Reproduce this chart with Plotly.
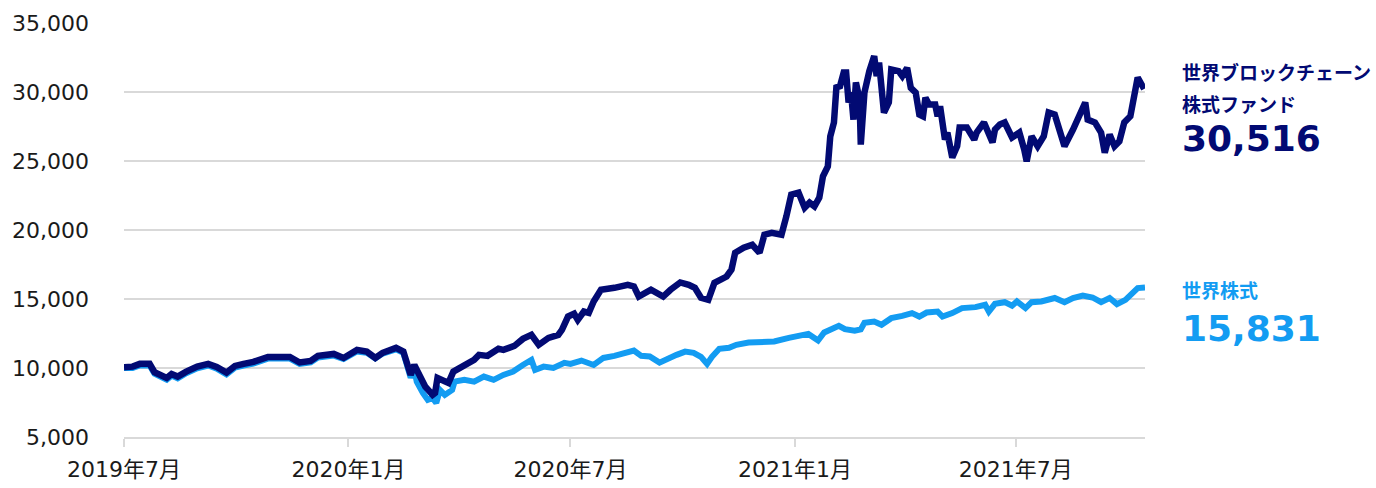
import plotly.graph_objects as go

# ---- data -------------------------------------------------------------
fund_dates = [
    "2019-07-01", "2019-07-08", "2019-07-14", "2019-07-22", "2019-07-26",
    "2019-08-05", "2019-08-09", "2019-08-14", "2019-08-21", "2019-08-30",
    "2019-09-08", "2019-09-15", "2019-09-23", "2019-09-30",
    "2019-10-07", "2019-10-15", "2019-10-27",
    "2019-11-14", "2019-11-22",
    "2019-12-01", "2019-12-07", "2019-12-20", "2019-12-28",
    "2020-01-08", "2020-01-16", "2020-01-23", "2020-01-29",
    "2020-02-09", "2020-02-15", "2020-02-21", "2020-02-24",
    "2020-03-04", "2020-03-10", "2020-03-12", "2020-03-14", "2020-03-23", "2020-03-27",
    "2020-04-05", "2020-04-13", "2020-04-17", "2020-04-24",
    "2020-05-03", "2020-05-07", "2020-05-16", "2020-05-23", "2020-05-30",
    "2020-06-05", "2020-06-13", "2020-06-21", "2020-06-24", "2020-06-29",
    "2020-07-04", "2020-07-07", "2020-07-12", "2020-07-16", "2020-07-20", "2020-07-26",
    "2020-08-06", "2020-08-10", "2020-08-17", "2020-08-22", "2020-08-26",
    "2020-09-05", "2020-09-15", "2020-09-21", "2020-09-29",
    "2020-10-06", "2020-10-11", "2020-10-16", "2020-10-22", "2020-10-27",
    "2020-11-02", "2020-11-06", "2020-11-10", "2020-11-13", "2020-11-20", "2020-11-27",
    "2020-12-03", "2020-12-07", "2020-12-13", "2020-12-21", "2020-12-25", "2020-12-29",
    "2021-01-04", "2021-01-09", "2021-01-13", "2021-01-17", "2021-01-21", "2021-01-24",
    "2021-01-28", "2021-01-30",
    "2021-02-02", "2021-02-04", "2021-02-07", "2021-02-10", "2021-02-12", "2021-02-14",
    "2021-02-16", "2021-02-18", "2021-02-20", "2021-02-23", "2021-02-24", "2021-02-27",
    "2021-03-03", "2021-03-05", "2021-03-07", "2021-03-09", "2021-03-11", "2021-03-15",
    "2021-03-19", "2021-03-21", "2021-03-27", "2021-03-30",
    "2021-04-03", "2021-04-06", "2021-04-10", "2021-04-13", "2021-04-16", "2021-04-18",
    "2021-04-21", "2021-04-26", "2021-04-28", "2021-04-30",
    "2021-05-04", "2021-05-06", "2021-05-10", "2021-05-14", "2021-05-16", "2021-05-22",
    "2021-05-28", "2021-05-30",
    "2021-06-05", "2021-06-12", "2021-06-14", "2021-06-18", "2021-06-22", "2021-06-28",
    "2021-07-04", "2021-07-08", "2021-07-10", "2021-07-14", "2021-07-19", "2021-07-24",
    "2021-07-28",
    "2021-08-02", "2021-08-05", "2021-08-10", "2021-08-17", "2021-08-23", "2021-08-27",
    "2021-08-29",
    "2021-09-04", "2021-09-09", "2021-09-12", "2021-09-16", "2021-09-20", "2021-09-24",
    "2021-09-28",
    "2021-10-03", "2021-10-05", "2021-10-09", "2021-10-13", "2021-10-15",
]
fund_values = [
    10050, 10100, 10300, 10300, 9700,
    9280, 9570, 9380, 9740, 10100,
    10300, 10080, 9670, 10150,
    10300, 10440, 10800,
    10800, 10400,
    10510, 10880, 11020, 10730,
    11310, 11190, 10730, 11100,
    11460, 11190, 9500, 10220,
    8650, 8050, 8190, 9280, 8920, 9740,
    10220, 10590, 10950, 10880,
    11390, 11310, 11600, 12110, 12400,
    11680, 12180, 12400, 12770, 13730,
    13930, 13490, 14090, 14000, 14820, 15670,
    15810, 15910, 16030, 15910, 15180,
    15670, 15180, 15670, 16200,
    16030, 15810, 15090, 14940, 16170,
    16390, 16630, 17120, 18350, 18720, 18930,
    18350, 19660, 19800, 19660, 20990, 22560,
    22710, 21620, 21980, 21710, 22340, 23890,
    24610, 26790,
    27790, 30330, 30420, 31410, 31410, 29240,
    29960, 28000, 30690, 29460, 26190, 29960,
    31510, 32140, 32600, 31150, 32140, 28510,
    29240, 31630, 31510, 31150,
    31750, 30300, 29960, 28370, 28240, 29580,
    29090, 29090, 28240, 28970,
    26550, 27060, 25250, 26070, 27420, 27420,
    26550, 27060,
    27790, 26340, 27280, 27640, 27790, 26700,
    27060, 25830, 24980, 26790, 26070, 26790,
    28510,
    28370, 27520, 26070, 27280, 28510, 29240,
    28000,
    27790, 27060, 25610, 26920, 26070, 26430,
    27790,
    28240, 29330, 31050, 30420, 30516,
]

world_dates = [
    "2019-07-01", "2019-07-08", "2019-07-14", "2019-07-22", "2019-07-26",
    "2019-08-05", "2019-08-09", "2019-08-14", "2019-08-21", "2019-08-30",
    "2019-09-08", "2019-09-15", "2019-09-23", "2019-09-30",
    "2019-10-07", "2019-10-15", "2019-10-27",
    "2019-11-14", "2019-11-22",
    "2019-12-01", "2019-12-07", "2019-12-20", "2019-12-28",
    "2020-01-08", "2020-01-16", "2020-01-23", "2020-01-29",
    "2020-02-09", "2020-02-15", "2020-02-21", "2020-02-24", "2020-02-26",
    "2020-03-02", "2020-03-06", "2020-03-10", "2020-03-13", "2020-03-16", "2020-03-20",
    "2020-03-26", "2020-03-28",
    "2020-04-05", "2020-04-13", "2020-04-21", "2020-04-29",
    "2020-05-07", "2020-05-15", "2020-05-23", "2020-05-30",
    "2020-06-02", "2020-06-09", "2020-06-17", "2020-06-26",
    "2020-07-01", "2020-07-10", "2020-07-20", "2020-07-28",
    "2020-08-06", "2020-08-14", "2020-08-22", "2020-08-28",
    "2020-09-04", "2020-09-12", "2020-09-19", "2020-09-26",
    "2020-10-03", "2020-10-10", "2020-10-16", "2020-10-21", "2020-10-25", "2020-10-31",
    "2020-11-08", "2020-11-14", "2020-11-24",
    "2020-12-05", "2020-12-15", "2020-12-27",
    "2021-01-04", "2021-01-12", "2021-01-20", "2021-01-25",
    "2021-02-06", "2021-02-11", "2021-02-19", "2021-02-24", "2021-02-27",
    "2021-03-07", "2021-03-13", "2021-03-21", "2021-03-30",
    "2021-04-07", "2021-04-13", "2021-04-19", "2021-04-28",
    "2021-05-02", "2021-05-10", "2021-05-18", "2021-05-29",
    "2021-06-06", "2021-06-09", "2021-06-14", "2021-06-22", "2021-06-28",
    "2021-07-02", "2021-07-09", "2021-07-14", "2021-07-22",
    "2021-08-02", "2021-08-10", "2021-08-17", "2021-08-25",
    "2021-09-02", "2021-09-09", "2021-09-16", "2021-09-22", "2021-09-29",
    "2021-10-03", "2021-10-09", "2021-10-15",
]
world_values = [
    10000, 10000, 10180, 10180, 9580,
    9150, 9450, 9250, 9620, 9980,
    10180, 9960, 9540, 10030,
    10180, 10320, 10680,
    10680, 10300,
    10400, 10760, 10900, 10650,
    11200, 11100, 10700, 11050,
    11350, 11100, 9300, 9900, 9010,
    8190, 7690, 7830, 7470, 8410, 8050,
    8410, 9010,
    9140, 9010, 9380, 9140,
    9500, 9740, 10220, 10590,
    9860, 10100, 10010, 10370,
    10300, 10540, 10220, 10730,
    10880, 11100, 11260, 10880,
    10830, 10390, 10730, 10950,
    11190, 11100, 10810, 10300, 10810, 11390,
    11460, 11680, 11840,
    11920, 11920, 12180,
    12330, 12470, 11990, 12570,
    13060, 12810, 12710, 12800, 13270,
    13370, 13130, 13610, 13780,
    13980, 13730, 14020, 14090,
    13730, 13980, 14340, 14410,
    14580, 14090, 14650, 14770, 14510,
    14820, 14340, 14770, 14820,
    15070, 14770, 15070, 15250,
    15110, 14770, 15070, 14630, 14940,
    15300, 15790, 15831,
]

tick_dates = ["2019-07-01", "2020-01-01", "2020-07-01", "2021-01-01", "2021-07-01"]
tick_labels = ["2019年7月", "2020年1月", "2020年7月", "2021年1月", "2021年7月"]

fund_name_lines = ["世界ブロックチェーン", "株式ファンド"]
world_name = "世界株式"

# ---- styles -----------------------------------------------------------
NAVY = "#020a73"
SKY = "#139cf2"
GRID = "#d9d9d9"
FONT = "DejaVu Sans, Verdana, Noto Sans CJK JP, sans-serif"
JP_FONT = "Noto Sans CJK JP, sans-serif"

fig = go.Figure()
fig.add_trace(go.Scatter(x=world_dates, y=world_values, mode="lines",
                         line=dict(color=SKY, width=6), name=world_name,
                         hoverinfo="skip"))
fig.add_trace(go.Scatter(x=fund_dates, y=fund_values, mode="lines",
                         line=dict(color=NAVY, width=6.5), name="".join(fund_name_lines),
                         hoverinfo="skip"))


def add_label(text, y, color, size, family):
    fig.add_annotation(xref="paper", yref="y", x=1.034, y=y, xanchor="left",
                       yanchor="middle", showarrow=False,
                       text=f"<b>{text}</b>",
                       font=dict(color=color, size=size, family=family))


add_label(fund_name_lines[0], 31480, NAVY, 19, JP_FONT)
add_label(fund_name_lines[1], 29190, NAVY, 19, JP_FONT)
add_label(f"{fund_values[-1]:,}", 26650, NAVY, 36, "DejaVu Sans")
add_label(world_name, 15715, SKY, 19, JP_FONT)
add_label(f"{world_values[-1]:,}", 12890, SKY, 36, "DejaVu Sans")

fig.update_layout(
    width=1376, height=488,
    margin=dict(l=124, r=231, t=23, b=51, autoexpand=False),
    paper_bgcolor="white", plot_bgcolor="white",
    showlegend=False,
    font=dict(family=FONT, size=22, color="#1a1a1a"),
)
fig.update_xaxes(
    type="date", range=["2019-07-01", "2021-10-15"],
    tickvals=tick_dates, ticktext=tick_labels,
    showgrid=False, zeroline=False, automargin=False,
    showline=True, linecolor=GRID, linewidth=2,
    ticks="outside", ticklen=8, tickwidth=2, tickcolor=GRID,
    ticklabelstandoff=4,
    tickfont=dict(size=22, family=FONT, color="#1a1a1a"),
)
fig.update_yaxes(
    range=[5000, 35000], dtick=5000, tick0=5000, tickformat=",d",
    showgrid=True, gridcolor=GRID, gridwidth=2, zeroline=False, automargin=False,
    showline=False, ticks="", ticklabelstandoff=34,
    tickfont=dict(size=22, family=FONT, color="#1a1a1a"),
)

fig.write_html(
    "out.html",
    config={"displayModeBar": False},
    post_script="document.body.style.margin='0';document.body.style.overflow='hidden';",
)
